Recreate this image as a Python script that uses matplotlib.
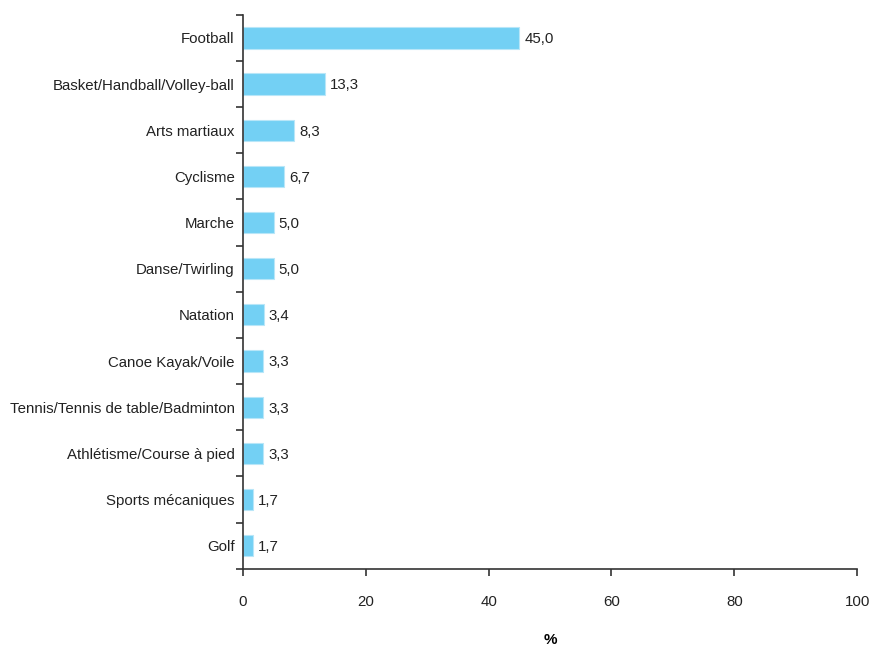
import numpy as np
import matplotlib.pyplot as plt

plt.rcParams['font.family'] = ['Liberation Sans', 'DejaVu Sans']

categories = ['Football', 'Basket/Handball/Volley-ball', 'Arts martiaux', 'Cyclisme',
              'Marche', 'Danse/Twirling', 'Natation', 'Canoe Kayak/Voile',
              'Tennis/Tennis de table/Badminton', 'Athlétisme/Course à pied',
              'Sports mécaniques', 'Golf']
values = [45.0, 13.3, 8.3, 6.7, 5.0, 5.0, 3.4, 3.3, 3.3, 3.3, 1.7, 1.7]

fig = plt.figure(figsize=(8.71, 6.47), dpi=100)
ax = fig.add_axes([0.279, 0.121, 0.705, 0.856])

y = np.arange(len(categories))
ax.barh(y, values, height=0.46, color='#73D0F4', edgecolor='#B8E6F8', linewidth=0.8)

for yi, v in zip(y, values):
    ax.text(v + 0.8, yi + 0.03, f'{v:.1f}'.replace('.', ','), va='center', ha='left',
            fontsize=10.8, color='#222222')

ax.set_ylim(len(categories) - 0.5, -0.5)
ax.set_xlim(0, 100)
ax.set_xticks([0, 20, 40, 60, 80, 100])
ax.set_yticks(y)
ax.set_yticklabels(categories)
ax.set_yticks(np.arange(-0.5, len(categories), 1), minor=True)
ax.tick_params(axis='y', which='major', length=0, pad=6, labelsize=10.8, labelcolor='#222222')
ax.tick_params(axis='y', which='minor', length=5, width=1.2, color='#333333', direction='out')
ax.tick_params(axis='x', length=5, width=1.2, color='#333333', pad=14, labelsize=10.8,
               labelcolor='#222222')

for s in ['top', 'right']:
    ax.spines[s].set_visible(False)
for s in ['left', 'bottom']:
    ax.spines[s].set_color('#333333')
    ax.spines[s].set_linewidth(1.2)

ax.set_xlabel('%', fontweight='bold', fontsize=11, labelpad=17)

fig.savefig('out.png', dpi=100)
